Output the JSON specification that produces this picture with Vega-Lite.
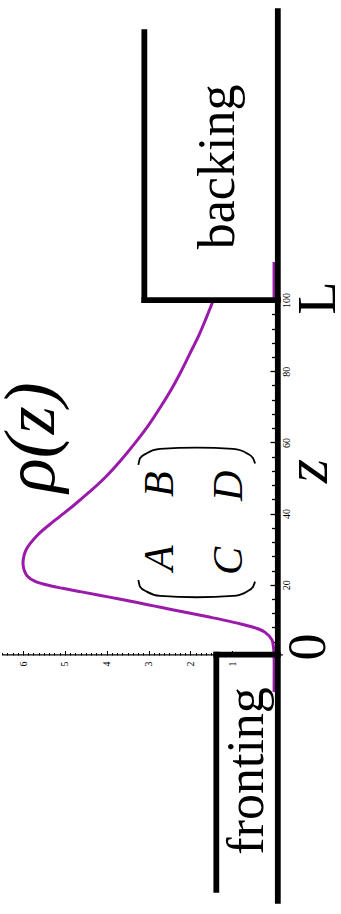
{
  "$schema": "https://vega.github.io/schema/vega-lite/v6.json",
  "width": 341,
  "height": 914,
  "autosize": {"type": "none"},
  "padding": 0,
  "background": "white",
  "config": {
    "view": {"stroke": null},
    "axis": {"grid": false, "labelFont": "Liberation Serif", "labelFontSize": 10, "labelColor": "black", "tickColor": "black"}
  },
  "resolve": {"axis": {"x": "independent", "y": "independent"}},
  "datasets": {
    "density": [
      {"z": -10.1, "rho": 0},
      {"z": 0, "rho": 0},
      {"z": 2, "rho": 0.01},
      {"z": 4.5, "rho": 0.05},
      {"z": 6.7, "rho": 0.22},
      {"z": 7.9, "rho": 0.45},
      {"z": 9, "rho": 0.8},
      {"z": 10, "rho": 1.17},
      {"z": 11, "rho": 1.58},
      {"z": 12, "rho": 2.0},
      {"z": 13, "rho": 2.43},
      {"z": 14, "rho": 2.85},
      {"z": 15, "rho": 3.27},
      {"z": 16, "rho": 3.7},
      {"z": 17, "rho": 4.15},
      {"z": 18, "rho": 4.6},
      {"z": 19, "rho": 5.05},
      {"z": 20, "rho": 5.45},
      {"z": 21, "rho": 5.72},
      {"z": 22.5, "rho": 5.9},
      {"z": 24, "rho": 5.97},
      {"z": 26, "rho": 6.0},
      {"z": 28, "rho": 5.98},
      {"z": 30, "rho": 5.92},
      {"z": 34, "rho": 5.65},
      {"z": 38, "rho": 5.25},
      {"z": 42, "rho": 4.82},
      {"z": 46, "rho": 4.42},
      {"z": 50, "rho": 4.05},
      {"z": 55, "rho": 3.66},
      {"z": 60, "rho": 3.31},
      {"z": 65, "rho": 2.99},
      {"z": 70, "rho": 2.71},
      {"z": 75, "rho": 2.45},
      {"z": 80, "rho": 2.22},
      {"z": 85, "rho": 2.01},
      {"z": 90, "rho": 1.8},
      {"z": 95, "rho": 1.62},
      {"z": 100, "rho": 1.45}
    ],
    "tail": [
      {"k": 1, "z": 100, "rho": 1.45},
      {"k": 2, "z": 100, "rho": 0},
      {"k": 3, "z": 110.7, "rho": 0}
    ],
    "walls": [
      {"part": "axis", "rho": -0.09, "rho2": -0.09, "z": -68.8, "z2": 181.2},
      {"part": "backing side", "rho": 3.1, "rho2": 3.1, "z": 100, "z2": 175.3},
      {"part": "backing base", "rho": 3.1, "rho2": -0.09, "z": 100, "z2": 100},
      {"part": "fronting side", "rho": 1.38, "rho2": 1.38, "z": 0.4, "z2": -65.7},
      {"part": "fronting base", "rho": 1.38, "rho2": -0.09, "z": 0.4, "z2": 0.4}
    ],
    "rhoLine": [
      {"rho": 6.48, "rho2": -0.21, "z": 0.3, "z2": 0.3}
    ],
    "parens": [
      {"side": "open", "rho": 3.243, "z": 21.35},
      {"side": "open", "rho": 3.203, "z": 19.47},
      {"side": "open", "rho": 3.043, "z": 18.07},
      {"side": "open", "rho": 2.725, "z": 16.86},
      {"side": "open", "rho": 1.848, "z": 16.49},
      {"side": "open", "rho": 0.98, "z": 16.86},
      {"side": "open", "rho": 0.652, "z": 18.07},
      {"side": "open", "rho": 0.502, "z": 19.47},
      {"side": "open", "rho": 0.454, "z": 20.88},
      {"side": "close", "rho": 3.243, "z": 53.67},
      {"side": "close", "rho": 3.203, "z": 55.55},
      {"side": "close", "rho": 3.043, "z": 56.96},
      {"side": "close", "rho": 2.725, "z": 58.16},
      {"side": "close", "rho": 1.848, "z": 58.53},
      {"side": "close", "rho": 0.98, "z": 58.16},
      {"side": "close", "rho": 0.652, "z": 56.96},
      {"side": "close", "rho": 0.502, "z": 55.55},
      {"side": "close", "rho": 0.454, "z": 54.1}
    ],
    "words": [
      {"label": "fronting", "rho": 0.263, "z": -32.3},
      {"label": "backing", "rho": 0.956, "z": 137.4}
    ],
    "ends": [
      {"label": "0", "rho": -1.22, "z": 2.5},
      {"label": "L", "rho": -1.45, "z": 100.6}
    ],
    "zname": [
      {"label": "z", "rho": -1.27, "z": 52}
    ],
    "rhoname": [
      {"label": "ρ(z)", "rho": 5.26, "z": 61.4}
    ],
    "matrix": [
      {"label": "A", "rho": 2.41, "z": 27.5},
      {"label": "B", "rho": 2.41, "z": 48.3},
      {"label": "C", "rho": 0.76, "z": 26.7},
      {"label": "D", "rho": 0.76, "z": 47.8}
    ]
  },
  "layer": [
    {
      "data": {"name": "density"},
      "mark": {"type": "line", "color": "#9a1aaa", "strokeWidth": 3, "interpolate": "catmull-rom"},
      "encoding": {
        "x": {
          "field": "rho", "type": "quantitative",
          "scale": {"domain": [-1.6, 6.55], "reverse": true, "nice": false, "zero": false},
          "axis": {
            "orient": "top", "offset": -655, "domain": false, "labels": false, "grid": false, "title": null,
            "values": [0,0.125,0.25,0.375,0.5,0.625,0.75,0.875,1,1.125,1.25,1.375,1.5,1.625,1.75,1.875,2,2.125,2.25,2.375,2.5,2.625,2.75,2.875,3,3.125,3.25,3.375,3.5,3.625,3.75,3.875,4,4.125,4.25,4.375,4.5,4.625,4.75,4.875,5,5.125,5.25,5.375,5.5,5.625,5.75,5.875,6,6.125,6.25,6.375,6.5],
            "tickSize": {"condition": {"test": "datum.value % 1 === 0", "value": 4.5}, "value": 2.5},
            "tickWidth": 1
          }
        },
        "y": {
          "field": "z", "type": "quantitative",
          "scale": {"domain": [-72.5, 184.3], "nice": false, "zero": false},
          "axis": {
            "orient": "left", "offset": -275, "domain": false, "labels": false, "grid": false, "title": null,
            "values": [0,4,8,12,16,20,24,28,32,36,40,44,48,52,56,60,64,68,72,76,80,84,88,92,96,100],
            "tickSize": {"condition": {"test": "datum.value % 20 === 0", "value": 5}, "value": 3.5},
            "tickWidth": 1.3
          }
        },
        "order": {"field": "z", "type": "quantitative"}
      }
    },
    {
      "data": {"name": "tail"},
      "mark": {"type": "line", "color": "#9a1aaa", "strokeWidth": 3},
      "encoding": {
        "x": {"field": "rho", "type": "quantitative", "axis": null},
        "y": {"field": "z", "type": "quantitative", "axis": null},
        "order": {"field": "k", "type": "quantitative"}
      }
    },
    {
      "data": {"name": "rhoLine"},
      "mark": {"type": "rule", "color": "black", "strokeWidth": 1.2},
      "encoding": {
        "x": {"field": "rho", "type": "quantitative", "axis": null},
        "x2": {"field": "rho2"},
        "y": {"field": "z", "type": "quantitative", "axis": null},
        "y2": {"field": "z2"}
      }
    },
    {
      "data": {"name": "walls"},
      "mark": {"type": "rule", "color": "black", "strokeWidth": 5.8, "strokeCap": "square"},
      "encoding": {
        "x": {
          "field": "rho", "type": "quantitative",
          "axis": {
            "orient": "bottom", "offset": -258, "domain": false, "ticks": false, "tickSize": 0, "grid": false, "title": null,
            "values": [1, 2, 3, 4, 5, 6], "labelPadding": 5, "labelAngle": 270,
            "labelAlign": "right", "labelBaseline": "middle", "labelFlush": false, "labelOverlap": false
          }
        },
        "x2": {"field": "rho2"},
        "y": {
          "field": "z", "type": "quantitative",
          "axis": {
            "orient": "right", "offset": -63, "domain": false, "ticks": false, "tickSize": 0, "grid": false, "title": null,
            "values": [20, 40, 60, 80, 100], "labelPadding": 3, "labelAngle": 270,
            "labelAlign": "center", "labelBaseline": "top", "labelFlush": false, "labelOverlap": false
          }
        },
        "y2": {"field": "z2"}
      }
    },
    {
      "data": {"name": "parens"},
      "mark": {"type": "line", "color": "black", "strokeWidth": 1.8, "interpolate": "monotone"},
      "encoding": {
        "x": {"field": "rho", "type": "quantitative", "axis": null},
        "y": {"field": "z", "type": "quantitative", "axis": null},
        "detail": {"field": "side"},
        "order": {"field": "rho", "type": "quantitative", "sort": "descending"}
      }
    },
    {
      "data": {"name": "words"},
      "mark": {"type": "text", "angle": 270, "align": "center", "baseline": "alphabetic", "font": "Liberation Serif", "fontSize": 52, "color": "black"},
      "encoding": {
        "x": {"field": "rho", "type": "quantitative", "axis": null},
        "y": {"field": "z", "type": "quantitative", "axis": null},
        "text": {"field": "label"}
      }
    },
    {
      "data": {"name": "ends"},
      "mark": {"type": "text", "angle": 270, "align": "center", "baseline": "alphabetic", "font": "Liberation Serif", "fontSize": 54, "color": "black"},
      "encoding": {
        "x": {"field": "rho", "type": "quantitative", "axis": null},
        "y": {"field": "z", "type": "quantitative", "axis": null},
        "text": {"field": "label"}
      }
    },
    {
      "data": {"name": "zname"},
      "mark": {"type": "text", "angle": 270, "align": "center", "baseline": "alphabetic", "font": "Liberation Serif", "fontStyle": "italic", "fontSize": 62, "color": "black"},
      "encoding": {
        "x": {"field": "rho", "type": "quantitative", "axis": null},
        "y": {"field": "z", "type": "quantitative", "axis": null},
        "text": {"field": "label"}
      }
    },
    {
      "data": {"name": "rhoname"},
      "mark": {"type": "text", "angle": 270, "align": "center", "baseline": "alphabetic", "font": "Liberation Serif", "fontStyle": "italic", "fontSize": 72, "color": "black"},
      "encoding": {
        "x": {"field": "rho", "type": "quantitative", "axis": null},
        "y": {"field": "z", "type": "quantitative", "axis": null},
        "text": {"field": "label"}
      }
    },
    {
      "data": {"name": "matrix"},
      "mark": {"type": "text", "angle": 270, "align": "center", "baseline": "alphabetic", "font": "Liberation Serif", "fontStyle": "italic", "fontSize": 42, "color": "black"},
      "encoding": {
        "x": {"field": "rho", "type": "quantitative", "axis": null},
        "y": {"field": "z", "type": "quantitative", "axis": null},
        "text": {"field": "label"}
      }
    }
  ]
}
